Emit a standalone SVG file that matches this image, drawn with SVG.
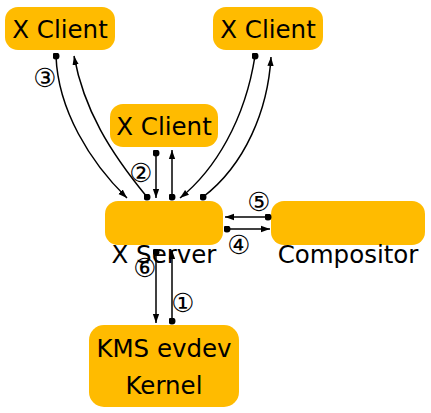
<svg xmlns="http://www.w3.org/2000/svg" width="431" height="413" viewBox="0 0 431 413">
<defs>
<marker id="ah" viewBox="0 0 10 10" refX="10" refY="5" markerWidth="9" markerHeight="9" markerUnits="userSpaceOnUse" orient="auto"><path d="M0,1.5 L10,5 L0,8.5 z" fill="#000"/></marker>
<marker id="dot" viewBox="0 0 10 10" refX="5" refY="5" markerWidth="7" markerHeight="7" markerUnits="userSpaceOnUse"><circle cx="5" cy="5" r="5" fill="#000"/></marker>
</defs>
<style>
.box{fill:#ffbb00}
.t{font-family:"DejaVu Sans",sans-serif;font-size:24.5px;fill:#000;text-anchor:middle}
.n{font-family:"DejaVu Sans",sans-serif;font-size:26px;fill:#000;text-anchor:middle}
.c{fill:none;stroke:#000;stroke-width:1.5;marker-start:url(#dot);marker-end:url(#ah)}
</style>
<rect width="431" height="413" fill="#fff"/>
<g id="client1"><rect class="box" x="5" y="7" width="110" height="43" rx="13"/><text class="t" x="60" y="38">X Client</text></g>
<g id="client2"><rect class="box" x="213" y="7" width="110" height="43" rx="13"/><text class="t" x="268" y="38">X Client</text></g>
<g id="client3"><rect class="box" x="110" y="104" width="108" height="43" rx="13"/><text class="t" x="164" y="135">X Client</text></g>
<g id="xserver"><rect class="box" x="105" y="201" width="118" height="44" rx="13"/><text class="t" x="164" y="263">X Server</text></g>
<g id="compositor"><rect class="box" x="271" y="201" width="154" height="44" rx="13"/><text class="t" x="348" y="263">Compositor</text></g>
<g id="kernel"><rect class="box" x="89" y="325" width="150" height="82" rx="15"/><text class="t" x="164" y="357">KMS evdev</text><text class="t" x="164" y="394">Kernel</text></g>
<g id="connectors">
<path class="c" d="M56,56 C58,110 90,162 127,198"/>
<path class="c" d="M147,197 C110,152 84,110 74,56"/>
<path class="c" d="M156,153 L156,198"/>
<path class="c" d="M172,197 L172,150"/>
<path class="c" d="M255,56 C245,120 215,170 180,198"/>
<path class="c" d="M203,197 C245,165 268,110 271,57"/>
<path class="c" d="M268,217 L225,217"/>
<path class="c" d="M227,229 L270,229"/>
<path class="c" d="M156,252 L156,323"/>
<path class="c" d="M172,321 L172,250"/>
</g>
<g id="labels">
<text class="n" x="45" y="87">③</text>
<text class="n" x="141" y="182">②</text>
<text class="n" x="259" y="211">⑤</text>
<text class="n" x="239" y="254">④</text>
<text class="n" x="145" y="277">⑥</text>
<text class="n" x="183" y="312">①</text>
</g>
</svg>
